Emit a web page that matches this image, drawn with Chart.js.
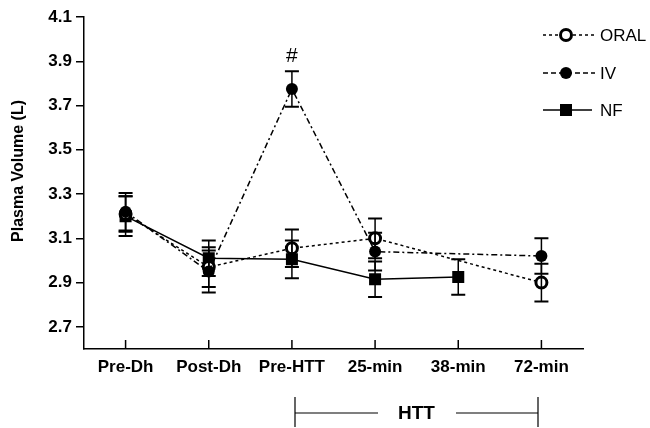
<!DOCTYPE html>
<html>
<head>
<meta charset="utf-8">
<script src="https://cdn.jsdelivr.net/npm/chart.js@4.4.0/dist/chart.umd.min.js"></script>
<style>
html, body { margin: 0; padding: 0; background: #fff; }
</style>
</head>
<body>
<canvas id="pvChart" width="650" height="428"></canvas>
<script>
// --- data ---
const categories = ['Pre-Dh', 'Post-Dh', 'Pre-HTT', '25-min', '38-min', '72-min'];
const oralValues = [3.21, 2.97, 3.055, 3.10, null, 2.90];
const oralErrors = [0.08, 0.09, 0.085, 0.09, null, 0.085];
const ivValues   = [3.22, 2.95, 3.775, 3.04, null, 3.02];
const ivErrors   = [0.085, 0.095, 0.08, 0.085, null, 0.08];
const nfValues   = [3.20, 3.01, 3.005, 2.915, 2.925, null];
const nfErrors   = [0.09, 0.08, 0.085, 0.08, 0.08, null];
const yTicks = [2.7, 2.9, 3.1, 3.3, 3.5, 3.7, 3.9, 4.1];

const FONT = '"Liberation Sans", Arial, sans-serif';
Chart.defaults.font.family = FONT;
Chart.defaults.color = '#000';

const errorsByDataset = [oralErrors, ivErrors, nfErrors];

// error bars drawn on top of the markers
const errorBars = {
  id: 'errorBars',
  afterDatasetsDraw(chart) {
    const ctx = chart.ctx;
    const y = chart.scales.y;
    ctx.save();
    ctx.strokeStyle = '#000';
    ctx.setLineDash([]);
    chart.data.datasets.forEach((ds, i) => {
      const meta = chart.getDatasetMeta(i);
      ds.data.forEach((v, j) => {
        const e = errorsByDataset[i][j];
        if (v == null || e == null) return;
        const px = meta.data[j].x;
        const top = y.getPixelForValue(v + e);
        const bot = y.getPixelForValue(v - e);
        ctx.lineWidth = 1.5;
        ctx.beginPath();
        ctx.moveTo(px, top); ctx.lineTo(px, bot);
        ctx.stroke();
        ctx.lineWidth = 2;
        ctx.beginPath();
        ctx.moveTo(px - 7, top); ctx.lineTo(px + 7, top);
        ctx.moveTo(px - 7, bot); ctx.lineTo(px + 7, bot);
        ctx.stroke();
      });
    });
    ctx.restore();
  }
};

// inward x ticks, axis title, legend, HTT bracket, # mark
const extras = {
  id: 'extras',
  afterDraw(chart) {
    const ctx = chart.ctx;
    const x = chart.scales.x;
    const y = chart.scales.y;
    const area = chart.chartArea;
    ctx.save();
    ctx.strokeStyle = '#000';
    ctx.fillStyle = '#000';

    // x ticks pointing up into the plot
    ctx.lineWidth = 1.5;
    ctx.beginPath();
    categories.forEach((c, i) => {
      const px = x.getPixelForValue(i);
      ctx.moveTo(px, area.bottom);
      ctx.lineTo(px, area.bottom - 9);
    });
    ctx.stroke();

    // y title
    ctx.save();
    ctx.translate(19, 171);
    ctx.rotate(-Math.PI / 2);
    ctx.font = 'bold 16px ' + FONT;
    ctx.textAlign = 'center';
    ctx.textBaseline = 'middle';
    ctx.fillText('Plasma Volume (L)', 0, 0);
    ctx.restore();

    // "#" above IV at Pre-HTT
    const ivMeta = chart.getDatasetMeta(1);
    ctx.font = '21px ' + FONT;
    ctx.textAlign = 'center';
    ctx.textBaseline = 'alphabetic';
    ctx.fillText('#', ivMeta.data[2].x, y.getPixelForValue(ivValues[2] + ivErrors[2]) - 9);

    // legend
    const items = [
      { label: 'ORAL', dash: [3, 3], y: 35, end: 597, style: 'open' },
      { label: 'IV', dash: [5, 3], y: 73, end: 595, style: 'dot' },
      { label: 'NF', dash: [], y: 110, end: 592, style: 'square' }
    ];
    items.forEach(it => {
      ctx.lineWidth = 1.5;
      ctx.setLineDash(it.dash);
      ctx.beginPath();
      ctx.moveTo(543, it.y); ctx.lineTo(it.end, it.y);
      ctx.stroke();
      ctx.setLineDash([]);
      const mx = 566;
      if (it.style === 'open') {
        ctx.fillStyle = '#fff';
        ctx.lineWidth = 3;
        ctx.beginPath(); ctx.arc(mx, it.y, 5.5, 0, Math.PI * 2); ctx.fill(); ctx.stroke();
      } else if (it.style === 'dot') {
        ctx.fillStyle = '#000';
        ctx.beginPath(); ctx.arc(mx, it.y, 6, 0, Math.PI * 2); ctx.fill();
      } else {
        ctx.fillStyle = '#000';
        ctx.fillRect(mx - 6, it.y - 6, 12, 12);
      }
      ctx.fillStyle = '#000';
      ctx.font = '17px ' + FONT;
      ctx.textAlign = 'left';
      ctx.textBaseline = 'middle';
      ctx.fillText(it.label, 600, it.y + 1);
    });

    // HTT bracket
    const bl = 295, br = 538, by = 413;
    ctx.lineWidth = 1.2;
    ctx.beginPath();
    ctx.moveTo(bl, 397); ctx.lineTo(bl, 427);
    ctx.moveTo(br, 397); ctx.lineTo(br, 427);
    ctx.moveTo(bl, by); ctx.lineTo(378, by);
    ctx.moveTo(456, by); ctx.lineTo(br, by);
    ctx.stroke();
    ctx.font = 'bold 19px ' + FONT;
    ctx.textAlign = 'center';
    ctx.textBaseline = 'middle';
    ctx.fillText('HTT', (bl + br) / 2, by + 1);

    ctx.restore();
  }
};

new Chart(document.getElementById('pvChart').getContext('2d'), {
  type: 'line',
  data: {
    labels: categories,
    datasets: [
      {
        label: 'ORAL',
        data: oralValues,
        order: 1,
        borderColor: '#000',
        borderWidth: 1.5,
        borderDash: [3, 3],
        pointStyle: 'circle',
        pointRadius: 5.5,
        pointBorderWidth: 3,
        pointBackgroundColor: '#fff',
        pointBorderColor: '#000',
        spanGaps: true,
        tension: 0
      },
      {
        label: 'IV',
        data: ivValues,
        order: 0,
        borderColor: '#000',
        borderWidth: 1.5,
        borderDash: [6, 3, 2, 3],
        pointStyle: 'circle',
        pointRadius: 6,
        pointBorderWidth: 0,
        pointBackgroundColor: '#000',
        pointBorderColor: '#000',
        spanGaps: true,
        tension: 0
      },
      {
        label: 'NF',
        data: nfValues,
        order: 2,
        borderColor: '#000',
        borderWidth: 1.5,
        pointStyle: 'rect',
        pointRadius: 8.5,
        pointBorderWidth: 0,
        pointBackgroundColor: '#000',
        pointBorderColor: '#000',
        tension: 0
      }
    ]
  },
  options: {
    responsive: false,
    animation: false,
    layout: { padding: { left: 0, right: 67, top: 17, bottom: 0 } },
    plugins: {
      legend: { display: false },
      tooltip: { enabled: false }
    },
    scales: {
      x: {
        offset: true,
        grid: { drawOnChartArea: false, drawTicks: false },
        border: { color: '#000', width: 1.5 },
        ticks: { padding: 8, font: { size: 17, weight: 'bold' }, color: '#000', maxRotation: 0 },
        afterFit(scale) { scale.height = 79; }
      },
      y: {
        min: 2.6,
        max: 4.1,
        afterBuildTicks(scale) { scale.ticks = yTicks.map(v => ({ value: v })); },
        grid: { drawOnChartArea: false, drawTicks: true, tickLength: 8, color: '#000', lineWidth: 1.5 },
        border: { color: '#000', width: 1.5 },
        ticks: {
          padding: 4,
          font: { size: 17, weight: 'bold' },
          color: '#000',
          callback: v => v.toFixed(1)
        },
        afterFit(scale) { scale.width = 84; }
      }
    }
  },
  plugins: [errorBars, extras]
});
</script>
</body>
</html>
